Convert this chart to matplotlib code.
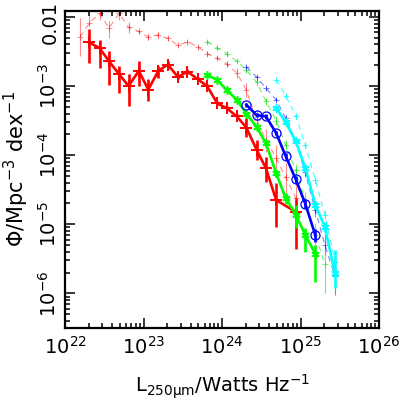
import numpy as np
import matplotlib
matplotlib.use("Agg")
import matplotlib.pyplot as plt
import matplotlib.transforms as mtransforms
from matplotlib.ticker import LogLocator, NullFormatter

# ---------------- data (log10 values) ----------------
# solid series
red_logL = [22.31, 22.44, 22.56, 22.69, 22.81, 22.94, 23.06, 23.19, 23.31, 23.44, 23.56,
            23.69, 23.81, 23.94, 24.06, 24.19, 24.31, 24.44, 24.56, 24.69, 24.94]
red_logphi = [-2.37, -2.45, -2.64, -2.83, -3.00, -2.78, -3.05, -2.78, -2.69, -2.87, -2.79,
              -2.90, -3.00, -3.25, -3.32, -3.44, -3.60, -3.92, -4.19, -4.65, -4.82]
red_hi = [-2.18, -2.33, -2.49, -2.71, -2.83, -2.64, -2.90, -2.71, -2.64, -2.84, -2.76,
          -2.87, -2.97, -3.22, -3.29, -3.41, -3.46, -3.78, -4.03, -4.40, -4.62]
red_lo = [-2.66, -2.74, -2.98, -3.10, -3.29, -3.00, -3.22, -2.88, -2.76, -2.90, -2.82,
          -2.93, -3.03, -3.28, -3.35, -3.47, -3.74, -4.07, -4.39, -5.04, -5.36]

green_logL = [23.81, 23.94, 24.06, 24.19, 24.31, 24.44, 24.56, 24.69, 24.81, 24.94, 25.06, 25.19]
green_logphi = [-2.84, -2.91, -3.06, -3.20, -3.40, -3.59, -3.83, -4.26, -4.62, -4.86, -5.15, -5.43]
green_hi = [-2.81, -2.88, -3.03, -3.17, -3.37, -3.56, -3.79, -4.21, -4.55, -4.72, -5.05, -5.30]
green_lo = [-2.87, -2.94, -3.09, -3.23, -3.43, -3.62, -3.87, -4.31, -4.70, -5.05, -5.40, -5.83]

blue_logL = [24.31, 24.44, 24.56, 24.69, 24.81, 24.94, 25.06, 25.19]
blue_logphi = [-3.27, -3.42, -3.44, -3.68, -4.01, -4.35, -4.70, -5.16]
blue_hi = [-3.24, -3.39, -3.41, -3.65, -3.97, -4.30, -4.64, -5.07]
blue_lo = [-3.30, -3.45, -3.47, -3.71, -4.05, -4.40, -4.76, -5.26]

cyan_logL = [24.69, 24.81, 24.94, 25.06, 25.19, 25.31, 25.44]
cyan_logphi = [-3.32, -3.52, -3.80, -4.18, -4.72, -5.04, -5.71]
cyan_hi = [-3.29, -3.49, -3.77, -4.14, -4.66, -4.97, -5.37]
cyan_lo = [-3.35, -3.55, -3.83, -4.22, -4.78, -5.11, -5.92]

# dashed (pale) series
pink_logL = [22.19, 22.31, 22.44, 22.56, 22.69, 22.81, 22.94, 23.06, 23.19, 23.31, 23.44, 23.56,
             23.69, 23.81, 23.94, 24.06, 24.19, 24.31, 24.44, 24.56, 24.69, 24.81, 24.94]
pink_logphi = [-2.29, -2.09, -1.95, -2.16, -1.95, -2.15, -2.21, -2.29, -2.26, -2.31, -2.41, -2.36,
               -2.43, -2.53, -2.60, -2.68, -2.81, -3.06, -3.49, -3.78, -4.04, -4.32, -4.62]
pink_hi = [-2.01, -1.85, -1.80, -2.06, -1.80, -2.08, -2.17, -2.25, -2.22, -2.27, -2.38, -2.33,
           -2.40, -2.50, -2.57, -2.64, -2.74, -2.96, -3.35, -3.62, -3.85, -4.12, -4.40]
pink_lo = [-2.57, -2.13, -2.04, -2.31, -2.05, -2.23, -2.25, -2.33, -2.30, -2.35, -2.44, -2.39,
           -2.46, -2.56, -2.63, -2.72, -2.88, -3.16, -3.63, -3.95, -4.25, -4.55, -4.90]

lgreen_logL = [23.81, 23.94, 24.06, 24.19, 24.31, 24.44, 24.56, 24.69, 24.81, 24.94, 25.06, 25.19, 25.31]
lgreen_logphi = [-2.36, -2.45, -2.53, -2.64, -2.77, -2.94, -3.22, -3.50, -3.85, -4.22, -4.65, -5.15, -5.58]
lgreen_hi = [-2.33, -2.42, -2.50, -2.61, -2.74, -2.90, -3.17, -3.44, -3.78, -4.13, -4.53, -4.98, -5.45]
lgreen_lo = [-2.39, -2.48, -2.56, -2.67, -2.80, -2.98, -3.27, -3.56, -3.92, -4.31, -4.78, -5.35, -5.99]

lblue_logL = [24.31, 24.44, 24.56, 24.69, 24.81, 24.94, 25.06, 25.19, 25.31, 25.44]
lblue_logphi = [-2.72, -2.87, -3.03, -3.20, -3.46, -3.80, -4.25, -4.80, -5.30, -5.75]
lblue_hi = [-2.69, -2.84, -3.00, -3.17, -3.42, -3.75, -4.18, -4.70, -5.15, -5.55]
lblue_lo = [-2.75, -2.90, -3.06, -3.23, -3.50, -3.85, -4.32, -4.90, -5.45, -6.02]

lcyan_logL = [24.69, 24.81, 24.94, 25.06, 25.19, 25.31, 25.44]
lcyan_logphi = [-2.91, -3.14, -3.43, -3.85, -4.36, -4.86, -5.54]
lcyan_hi = [-2.88, -3.11, -3.40, -3.81, -4.31, -4.79, -5.40]
lcyan_lo = [-2.94, -3.17, -3.46, -3.89, -4.41, -4.93, -5.70]

yticks_vals = [1e-6, 1e-5, 1e-4, 1e-3, 1e-2]
yticks_text = [r'$\mathdefault{10^{-6}}$', r'$\mathdefault{10^{-5}}$', r'$\mathdefault{10^{-4}}$',
               r'$\mathdefault{10^{-3}}$', '0.01']

# ---------------- figure ----------------
fig = plt.figure(figsize=(4.03, 4.04), dpi=100)
ax = fig.add_axes([65 / 403, 1 - 328 / 404, (379 - 65) / 403, (328 - 10.7) / 404])


def plot_series(logL, logphi, hi, lo, color, marker, ms, mew, lw, ls, alpha=1.0, mfc=None, z=2):
    L = 10 ** np.asarray(logL)
    p = 10 ** np.asarray(logphi)
    yerr = [p - 10 ** np.asarray(lo), 10 ** np.asarray(hi) - p]
    ax.errorbar(L, p, yerr=yerr, fmt='none', ecolor=color, elinewidth=lw, alpha=alpha,
                capsize=0, zorder=z)
    ax.plot(L, p, color=color, lw=lw, ls=ls, marker=marker, ms=ms, mew=mew,
            mfc=(mfc if mfc is not None else color), mec=color, alpha=alpha, zorder=z + 0.1)


dash = (0, (5, 4))
# pale dashed series
plot_series(pink_logL, pink_logphi, pink_hi, pink_lo, '#ff0000', '+', 4, 0.7, 0.8, dash, alpha=0.45, z=1)
plot_series(lgreen_logL, lgreen_logphi, lgreen_hi, lgreen_lo, '#00e000', '+', 4, 0.7, 0.8, dash, alpha=0.55, z=1)
plot_series(lblue_logL, lblue_logphi, lblue_hi, lblue_lo, '#0000ff', '+', 4, 0.7, 0.8, dash, alpha=0.5, z=1)
plot_series(lcyan_logL, lcyan_logphi, lcyan_hi, lcyan_lo, '#00ffff', '+', 4, 0.7, 0.8, dash, alpha=0.75, z=1)

# solid series
ast = (6, 2, 0)
plot_series(red_logL, red_logphi, red_hi, red_lo, '#ff0000', '+', 8, 1.4, 1.9, '-', z=3)
plot_series(green_logL, green_logphi, green_hi, green_lo, '#00ff00', ast, 6, 1.1, 1.9, '-', z=4)
plot_series(blue_logL, blue_logphi, blue_hi, blue_lo, '#0000ff', 'o', 6.5, 0.9, 1.9, '-', mfc='none', z=5)
plot_series(cyan_logL, cyan_logphi, cyan_hi, cyan_lo, '#00ffff', ast, 6, 1.1, 1.9, '-', z=6)

ax.set_xscale('log')
ax.set_yscale('log')
ax.set_xlim(1e22, 1e26)
ax.set_ylim(10 ** -6.5, 10 ** -1.91)

ax.xaxis.set_major_locator(LogLocator(base=10, numticks=10))
ax.xaxis.set_minor_locator(LogLocator(base=10, subs=np.arange(2, 10), numticks=20))
ax.xaxis.set_minor_formatter(NullFormatter())
ax.set_yticks(yticks_vals)
ax.set_yticklabels(yticks_text)
ax.yaxis.set_minor_locator(LogLocator(base=10, subs=np.arange(2, 10), numticks=20))
ax.yaxis.set_minor_formatter(NullFormatter())

ax.tick_params(which='both', direction='in', top=True, right=True, width=1.1, color='black')
ax.tick_params(which='major', length=7, labelsize=14, pad=6)
ax.tick_params(which='minor', length=3.5)
ax.tick_params(axis='y', which='major', labelsize=14, pad=4)
for s in ax.spines.values():
    s.set_linewidth(1.6)

labs = ax.get_yticklabels()
for i, lab in enumerate(labs):
    lab.set_rotation(90)
    lab.set_verticalalignment('center')
# nudge the top "0.01" label down so it stays inside the figure
labs[-1].set_transform(labs[-1].get_transform() +
                       mtransforms.ScaledTranslation(0, -4 / 72, fig.dpi_scale_trans))

ax.set_xlabel(r'L$_{\mathdefault{250\mu m}}$/Watts Hz$^{\mathdefault{-1}}$', fontsize=14, labelpad=10)
ax.set_ylabel(r'$\Phi$/Mpc$^{\mathdefault{-3}}$ dex$^{\mathdefault{-1}}$', fontsize=15, labelpad=5)

fig.savefig('out.png', dpi=100)
